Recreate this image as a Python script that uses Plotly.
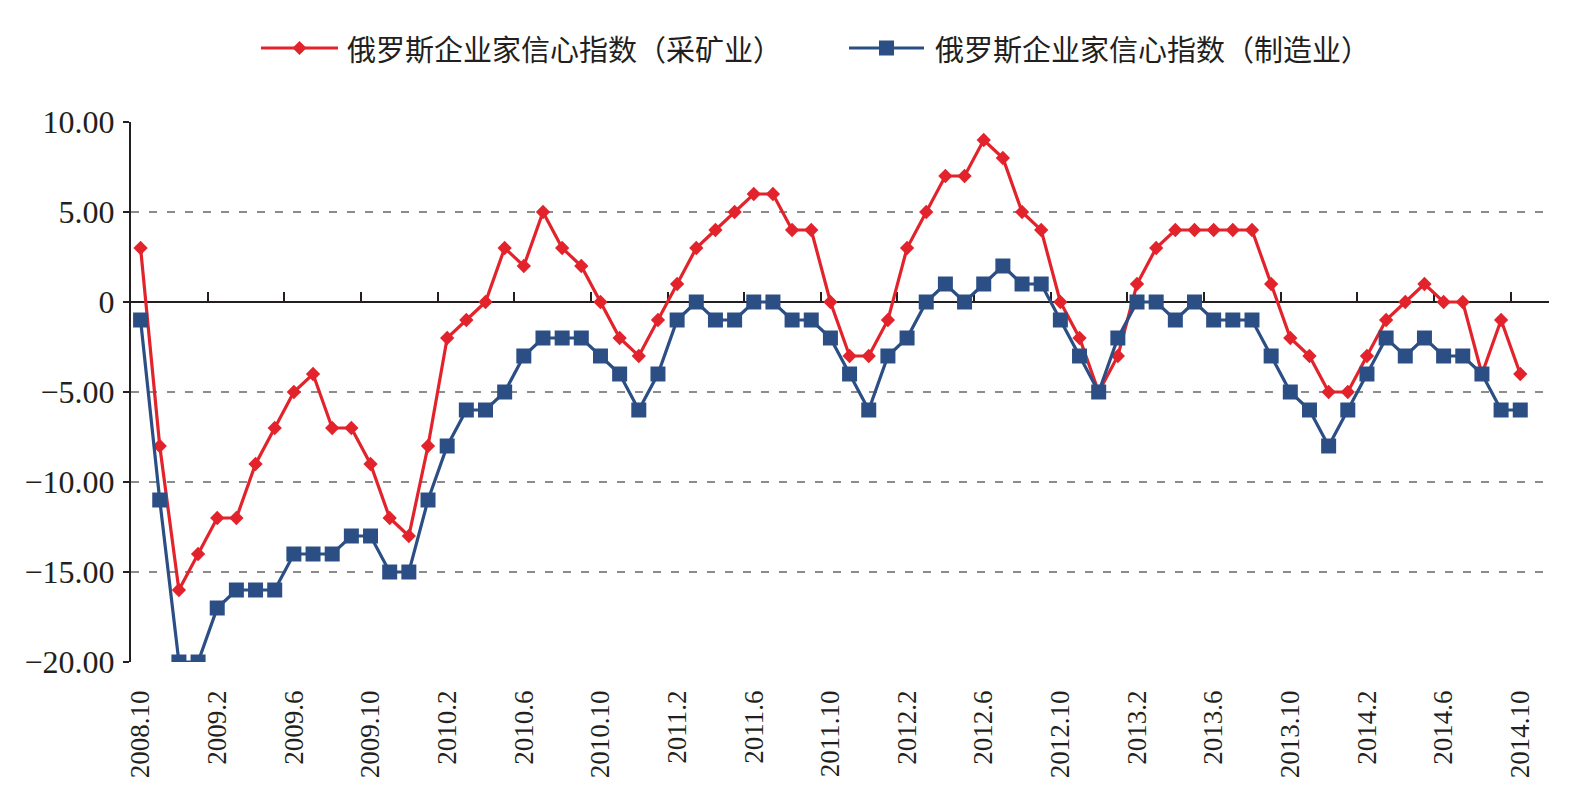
import plotly.graph_objects as go

# ---- data ----
categories = [
    "2008.10", "2008.11", "2008.12",
    "2009.1", "2009.2", "2009.3", "2009.4", "2009.5", "2009.6", "2009.7", "2009.8", "2009.9", "2009.10", "2009.11", "2009.12",
    "2010.1", "2010.2", "2010.3", "2010.4", "2010.5", "2010.6", "2010.7", "2010.8", "2010.9", "2010.10", "2010.11", "2010.12",
    "2011.1", "2011.2", "2011.3", "2011.4", "2011.5", "2011.6", "2011.7", "2011.8", "2011.9", "2011.10", "2011.11", "2011.12",
    "2012.1", "2012.2", "2012.3", "2012.4", "2012.5", "2012.6", "2012.7", "2012.8", "2012.9", "2012.10", "2012.11", "2012.12",
    "2013.1", "2013.2", "2013.3", "2013.4", "2013.5", "2013.6", "2013.7", "2013.8", "2013.9", "2013.10", "2013.11", "2013.12",
    "2014.1", "2014.2", "2014.3", "2014.4", "2014.5", "2014.6", "2014.7", "2014.8", "2014.9", "2014.10",
]

mining = [3, -8, -16, -14, -12, -12, -9, -7, -5, -4, -7, -7, -9, -12, -13, -8, -2, -1, 0, 3, 2, 5,
          3, 2, 0, -2, -3, -1, 1, 3, 4, 5, 6, 6, 4, 4, 0, -3, -3, -1, 3, 5, 7, 7, 9, 8, 5, 4, 0,
          -2, -5, -3, 1, 3, 4, 4, 4, 4, 4, 1, -2, -3, -5, -5, -3, -1, 0, 1, 0, 0, -4, -1, -4]

manufacturing = [-1, -11, -20, -20, -17, -16, -16, -16, -14, -14, -14, -13, -13, -15, -15, -11, -8, -6, -6, -5, -3, -2,
                 -2, -2, -3, -4, -6, -4, -1, 0, -1, -1, 0, 0, -1, -1, -2, -4, -6, -3, -2, 0, 1, 0, 1, 2, 1, 1, -1,
                 -3, -5, -2, 0, 0, -1, 0, -1, -1, -1, -3, -5, -6, -8, -6, -4, -2, -3, -2, -3, -3, -4, -6, -6]

tick_labels = ["2008.10", "2009.2", "2009.6", "2009.10", "2010.2", "2010.6", "2010.10", "2011.2", "2011.6",
               "2011.10", "2012.2", "2012.6", "2012.10", "2013.2", "2013.6", "2013.10", "2014.2", "2014.6", "2014.10"]

y_tick_vals = [-20, -15, -10, -5, 0, 5, 10]
y_tick_text = ["\u221220.00", "\u221215.00", "\u221210.00", "\u22125.00", "0", "5.00", "10.00"]

series_names = ["俄罗斯企业家信心指数（采矿业）", "俄罗斯企业家信心指数（制造业）"]

# ---- layout constants ----
W, H = 1586, 812
ML, MR, MT, MB = 131, 37, 122, 150
PW, PH = W - ML - MR, H - MT - MB

RED = "#E3232C"
BLUE = "#2B4E85"
TXT = "#231F20"


def px_x(px):
    return (px - ML) / PW


def px_y(py):
    return (H - MB - py) / PH


# ---- figure ----
xs = list(range(len(categories)))
tick_pos = [categories.index(t) for t in tick_labels]
boundary_ticks = [p - 0.5 for p in tick_pos[1:]]
n_cat = len(categories) + 1  # axis extends one empty category past the last month

fig = go.Figure()
fig.add_trace(go.Scatter(
    x=xs, y=mining, name=series_names[0], mode="lines+markers",
    line=dict(color=RED, width=3.2),
    marker=dict(symbol="diamond", size=11, color=RED),
))
fig.add_trace(go.Scatter(
    x=xs, y=manufacturing, name=series_names[1], mode="lines+markers",
    line=dict(color=BLUE, width=3.2),
    marker=dict(symbol="square", size=15, color=BLUE),
))
# empty helper trace so the zero-crossing category axis (x2) is drawn
fig.add_trace(go.Scatter(x=[], y=[], xaxis="x2", yaxis="y", showlegend=False, hoverinfo="skip"))

# ---- custom legend (long line samples like the original) ----
legend_items = [
    dict(x0=261, x1=338, ty=48, tx=345, color=RED, symbol="diamond", text=series_names[0]),
    dict(x0=849, x1=924, ty=48, tx=933, color=BLUE, symbol="square", text=series_names[1]),
]
shapes = []
annotations = []
for it in legend_items:
    yc = px_y(it["ty"])
    shapes.append(dict(type="line", xref="paper", yref="paper",
                       x0=px_x(it["x0"]), x1=px_x(it["x1"]), y0=yc, y1=yc,
                       line=dict(color=it["color"], width=3)))
    cx = (it["x0"] + it["x1"]) / 2
    if it["symbol"] == "diamond":
        r = 7
        path = "M{},{} L{},{} L{},{} L{},{} Z".format(
            px_x(cx - r), yc, px_x(cx), px_y(it["ty"] - r), px_x(cx + r), yc, px_x(cx), px_y(it["ty"] + r))
        shapes.append(dict(type="path", xref="paper", yref="paper", path=path,
                           fillcolor=it["color"], line=dict(color=it["color"], width=0)))
    else:
        r = 7.5
        shapes.append(dict(type="rect", xref="paper", yref="paper",
                           x0=px_x(cx - r), x1=px_x(cx + r), y0=px_y(it["ty"] + r), y1=px_y(it["ty"] - r),
                           fillcolor=it["color"], line=dict(color=it["color"], width=0)))
    annotations.append(dict(xref="paper", yref="paper", x=px_x(it["tx"]), y=yc,
                            xanchor="left", yanchor="middle", showarrow=False, text=it["text"],
                            font=dict(family="Noto Sans CJK SC", size=29, color=TXT)))

fig.update_layout(
    width=W, height=H,
    paper_bgcolor="white", plot_bgcolor="white",
    margin=dict(l=ML, r=MR, t=MT, b=MB),
    showlegend=False,
    shapes=shapes,
    annotations=annotations,
    xaxis=dict(
        range=[-0.5, n_cat - 0.5],
        tickmode="array", tickvals=tick_pos, ticktext=tick_labels,
        tickangle=-90, ticks="", showline=False, showgrid=False, zeroline=False,
        tickfont=dict(family="Liberation Serif", size=27, color=TXT),
        ticklabelstandoff=22,
    ),
    xaxis2=dict(
        overlaying="x", anchor="free", position=2 / 3, side="bottom",
        range=[-0.5, n_cat - 0.5],
        tickmode="array", tickvals=boundary_ticks, showticklabels=False,
        ticks="inside", ticklen=9, tickwidth=2, tickcolor=TXT,
        showline=True, linecolor=TXT, linewidth=2,
        showgrid=False, zeroline=False, layer="below traces",
    ),
    yaxis=dict(
        range=[-20, 10],
        tickmode="array", tickvals=y_tick_vals, ticktext=y_tick_text,
        showline=True, linecolor=TXT, linewidth=2,
        ticks="outside", ticklen=6, tickwidth=2, tickcolor=TXT,
        showgrid=True, gridcolor="#8C8C8C", gridwidth=1.5, griddash="8px,10px",
        zeroline=False,
        tickfont=dict(family="Liberation Serif", size=32, color=TXT),
        ticklabelstandoff=2,
        layer="below traces",
    ),
)

fig.write_html("out.html")
